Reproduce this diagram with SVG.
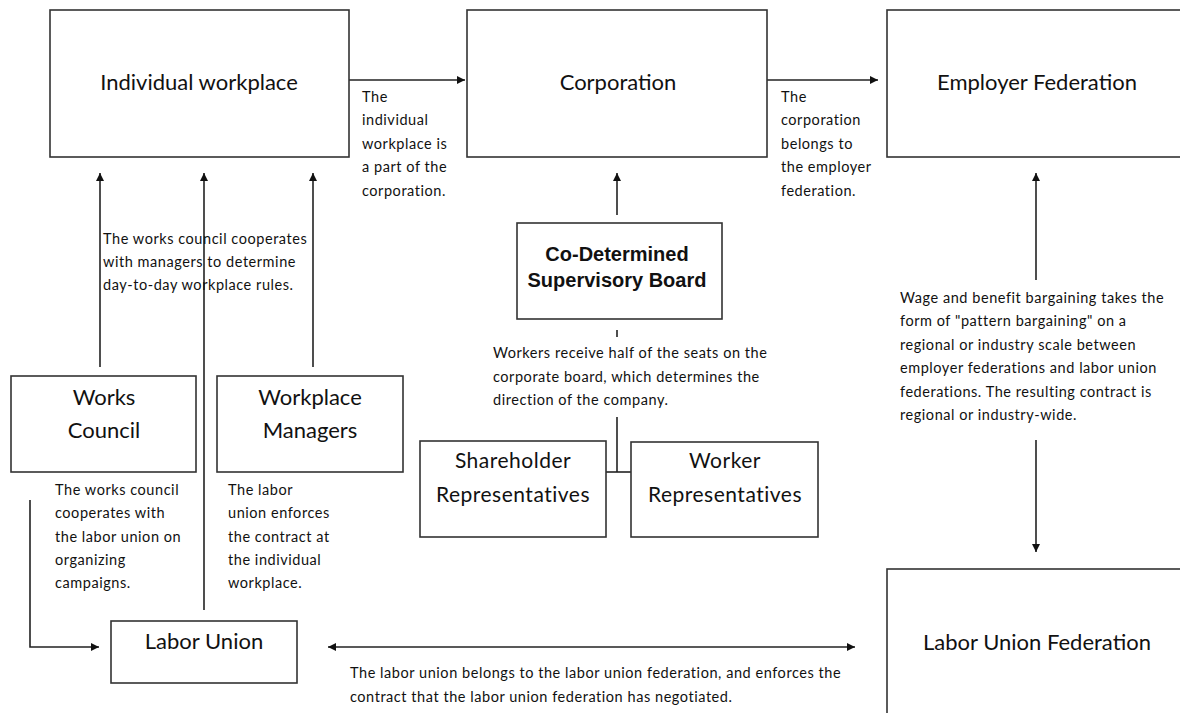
<svg xmlns="http://www.w3.org/2000/svg" width="1180" height="713" viewBox="0 0 1180 713">
<style>
.box{fill:#fff;stroke:#333;stroke-width:1.6}
.lbl{font-family:Lato,"Liberation Sans",sans-serif;font-size:22px;fill:#111;text-anchor:middle}
.lbl2{font-family:Lato,"Liberation Sans",sans-serif;font-size:21px;letter-spacing:0.5px;fill:#111;text-anchor:middle}
.bold{font-family:"Liberation Sans",Arial,sans-serif;font-size:20px;font-weight:bold;fill:#111;text-anchor:middle}
.note{font-family:Lato,"Liberation Sans",sans-serif;font-size:14.5px;letter-spacing:0.55px;fill:#111}
.ln{fill:none;stroke:#222;stroke-width:1.6}
</style>
<defs>
<marker id="ah" viewBox="0 0 10 10" refX="10" refY="5" markerWidth="5" markerHeight="5" orient="auto-start-reverse" markerUnits="strokeWidth">
<path d="M0,0 L10,5 L0,10 z" fill="#111"/>
</marker>
</defs>
<rect width="1180" height="713" fill="#fff"/>

<g id="connectors">
<line class="ln" x1="349" y1="80" x2="465" y2="80" marker-end="url(#ah)"/>
<line class="ln" x1="767" y1="80" x2="878" y2="80" marker-end="url(#ah)"/>
<line class="ln" x1="100" y1="367" x2="100" y2="173" marker-end="url(#ah)"/>
<line class="ln" x1="204" y1="610" x2="204" y2="173" marker-end="url(#ah)"/>
<line class="ln" x1="313" y1="367" x2="313" y2="173" marker-end="url(#ah)"/>
<line class="ln" x1="617" y1="215" x2="617" y2="173" marker-end="url(#ah)"/>
<line class="ln" x1="617" y1="330" x2="617" y2="337"/>
<polyline class="ln" points="617,417 617,472"/>
<line class="ln" x1="606" y1="472" x2="631" y2="472"/>
<line class="ln" x1="1036" y1="280" x2="1036" y2="173" marker-end="url(#ah)"/>
<line class="ln" x1="1036" y1="440" x2="1036" y2="552" marker-end="url(#ah)"/>
<polyline class="ln" points="30,500 30,647 99,647" marker-end="url(#ah)"/>
<line class="ln" x1="328" y1="647" x2="855" y2="647" marker-start="url(#ah)" marker-end="url(#ah)"/>
</g>

<g id="individual-workplace">
<rect class="box" x="50" y="10" width="299" height="147"/>
<text class="lbl" x="199" y="90">Individual workplace</text>
</g>
<g id="corporation">
<rect class="box" x="467" y="10" width="300" height="147"/>
<text class="lbl" x="618" y="90">Corporation</text>
</g>
<g id="employer-federation">
<rect class="box" x="887" y="10" width="310" height="147"/>
<text class="lbl" x="1037" y="90">Employer Federation</text>
</g>
<g id="supervisory-board">
<rect class="box" x="517" y="223" width="205" height="96"/>
<text class="bold" x="617" y="261">Co-Determined</text>
<text class="bold" x="617" y="287">Supervisory Board</text>
</g>
<g id="works-council">
<rect class="box" x="11" y="376" width="185" height="96"/>
<text class="lbl" x="104" y="405">Works</text>
<text class="lbl" x="104" y="438">Council</text>
</g>
<g id="workplace-managers">
<rect class="box" x="217" y="376" width="186" height="96"/>
<text class="lbl" x="310" y="405">Workplace</text>
<text class="lbl" x="310" y="438">Managers</text>
</g>
<g id="shareholder-representatives">
<rect class="box" x="420" y="441" width="186" height="96"/>
<text class="lbl2" x="513" y="468">Shareholder</text>
<text class="lbl2" x="513" y="502">Representatives</text>
</g>
<g id="worker-representatives">
<rect class="box" x="631" y="442" width="187" height="95"/>
<text class="lbl2" x="725" y="468">Worker</text>
<text class="lbl2" x="725" y="502">Representatives</text>
</g>
<g id="labor-union">
<rect class="box" x="111" y="621" width="186" height="62"/>
<text class="lbl" x="204" y="649">Labor Union</text>
</g>
<g id="labor-union-federation">
<rect class="box" x="887" y="569" width="310" height="160"/>
<text class="lbl" x="1037" y="650">Labor Union Federation</text>
</g>

<g id="notes">
<text class="note" x="362" y="102">The</text>
<text class="note" x="362" y="125">individual</text>
<text class="note" x="362" y="149">workplace is</text>
<text class="note" x="362" y="172">a part of the</text>
<text class="note" x="362" y="196">corporation.</text>

<text class="note" x="781" y="102">The</text>
<text class="note" x="781" y="125">corporation</text>
<text class="note" x="781" y="149">belongs to</text>
<text class="note" x="781" y="172">the employer</text>
<text class="note" x="781" y="196">federation.</text>

<text class="note" x="103" y="244">The works council cooperates</text>
<text class="note" x="103" y="267">with managers to determine</text>
<text class="note" x="103" y="290">day-to-day workplace rules.</text>

<text class="note" x="493" y="358">Workers receive half of the seats on the</text>
<text class="note" x="493" y="382">corporate board, which determines the</text>
<text class="note" x="493" y="405">direction of the company.</text>

<text class="note" x="900" y="303">Wage and benefit bargaining takes the</text>
<text class="note" x="900" y="326">form of "pattern bargaining" on a</text>
<text class="note" x="900" y="350">regional or industry scale between</text>
<text class="note" x="900" y="373">employer federations and labor union</text>
<text class="note" x="900" y="397">federations.  The resulting contract is</text>
<text class="note" x="900" y="420">regional or industry-wide.</text>

<text class="note" x="55" y="495">The works council</text>
<text class="note" x="55" y="518">cooperates with</text>
<text class="note" x="55" y="542">the labor union on</text>
<text class="note" x="55" y="565">organizing</text>
<text class="note" x="55" y="588">campaigns.</text>

<text class="note" x="228" y="495">The labor</text>
<text class="note" x="228" y="518">union enforces</text>
<text class="note" x="228" y="542">the contract at</text>
<text class="note" x="228" y="565">the individual</text>
<text class="note" x="228" y="588">workplace.</text>

<text class="note" x="350" y="678">The labor union belongs to the labor union federation, and enforces the</text>
<text class="note" x="350" y="702">contract that the labor union federation has negotiated.</text>
</g>
</svg>
